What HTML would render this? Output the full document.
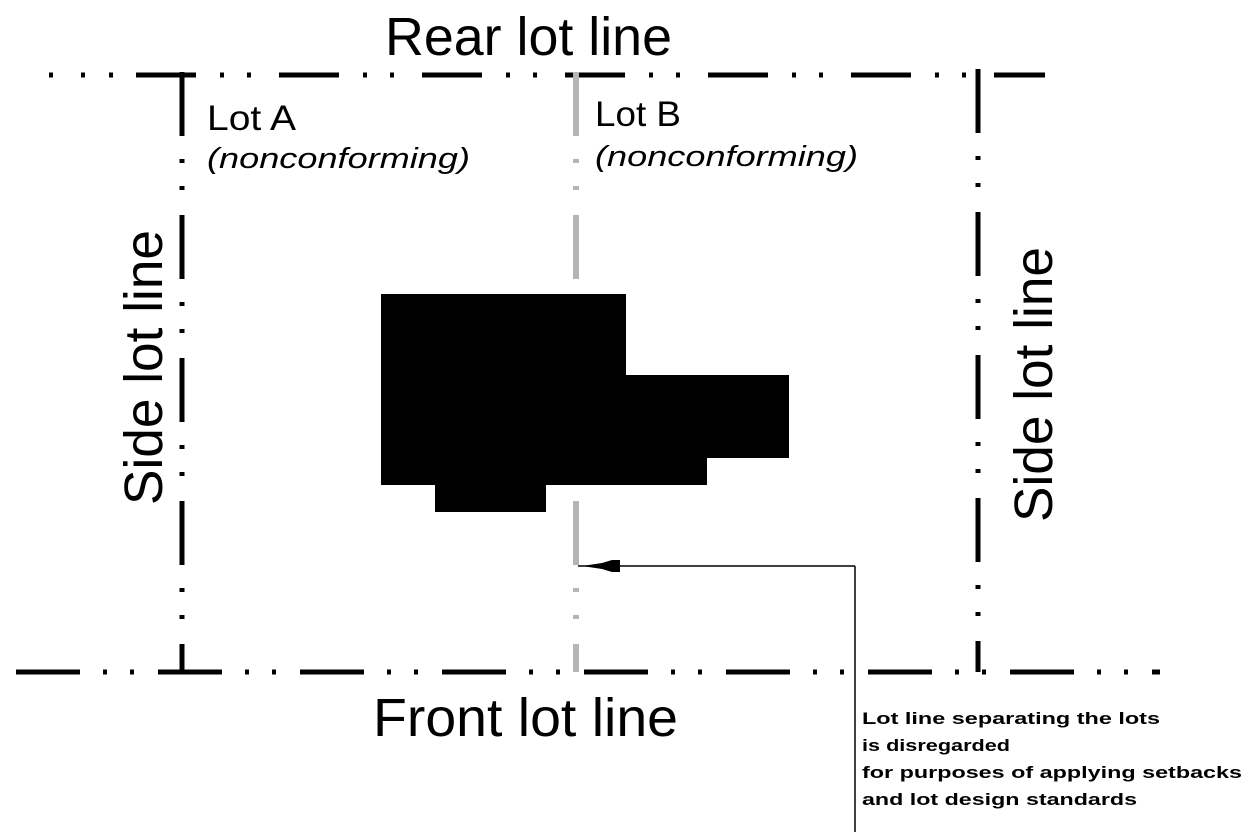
<!DOCTYPE html>
<html><head><meta charset="utf-8"><style>
html,body{margin:0;padding:0;background:#fff;}
svg{display:block;}
text{font-family:"Liberation Sans",Arial,sans-serif;fill:#000;}
</style></head><body>
<svg width="1253" height="832" viewBox="0 0 1253 832" xmlns="http://www.w3.org/2000/svg">
<g fill="none" stroke-width="5">
<!-- top rear line -->
<line x1="40" y1="75" x2="136" y2="75" stroke="#000" stroke-dasharray="0 9 4 28 4 24 4 200"/>
<line x1="136" y1="75" x2="1045" y2="75" stroke="#000" stroke-dasharray="60 24 4 23 4 28"/>
<!-- front line -->
<line x1="16" y1="672" x2="1160" y2="672" stroke="#000" stroke-dasharray="64 23 4 23 4 24"/>
<!-- left side -->
<line x1="182" y1="72" x2="182" y2="672" stroke="#000" stroke-dasharray="64 23 4 23 4 25"/>
<!-- right side -->
<line x1="978" y1="69" x2="978" y2="672" stroke="#000" stroke-dasharray="64 23 4 23 4 25"/>
<!-- gray middle -->
<line x1="576" y1="72" x2="576" y2="672" stroke="#b5b5b5" stroke-width="6" stroke-dasharray="64 23 4 23 4 25"/>
</g>
<!-- building -->
<polygon points="381,294 626,294 626,375 789,375 789,458 707,458 707,485 546,485 546,512 435,512 435,485 381,485" fill="#000"/>
<!-- arrow -->
<line x1="578" y1="566" x2="855" y2="566" stroke="#000" stroke-width="1.5"/>
<line x1="855" y1="566" x2="855" y2="832" stroke="#000" stroke-width="1.5"/>
<polygon points="582,566 602,563 612,560 620,560 620,572 612,572 602,569" fill="#000"/>
<!-- labels -->
<text x="385" y="55" font-size="54" textLength="287" lengthAdjust="spacingAndGlyphs">Rear lot line</text>
<text x="373" y="736" font-size="54" textLength="305" lengthAdjust="spacingAndGlyphs">Front lot line</text>
<text transform="translate(162,505) rotate(-90)" font-size="54" textLength="275" lengthAdjust="spacingAndGlyphs">Side lot line</text>
<text transform="translate(1052,522) rotate(-90)" font-size="54" textLength="275" lengthAdjust="spacingAndGlyphs">Side lot line</text>
<text x="207" y="130" font-size="35" textLength="89" lengthAdjust="spacingAndGlyphs">Lot A</text>
<text x="207" y="168" font-size="29" font-style="italic" textLength="263" lengthAdjust="spacingAndGlyphs">(nonconforming)</text>
<text x="595" y="126" font-size="35" textLength="86" lengthAdjust="spacingAndGlyphs">Lot B</text>
<text x="595" y="166" font-size="29" font-style="italic" textLength="263" lengthAdjust="spacingAndGlyphs">(nonconforming)</text>
<g font-size="17" font-weight="bold">
<text x="862" y="724" textLength="298" lengthAdjust="spacingAndGlyphs">Lot line separating the lots</text>
<text x="862" y="751" textLength="148" lengthAdjust="spacingAndGlyphs">is disregarded</text>
<text x="862" y="778" textLength="380" lengthAdjust="spacingAndGlyphs">for purposes of applying setbacks</text>
<text x="862" y="805" textLength="275" lengthAdjust="spacingAndGlyphs">and lot design standards</text>
</g>
</svg>
</body></html>
